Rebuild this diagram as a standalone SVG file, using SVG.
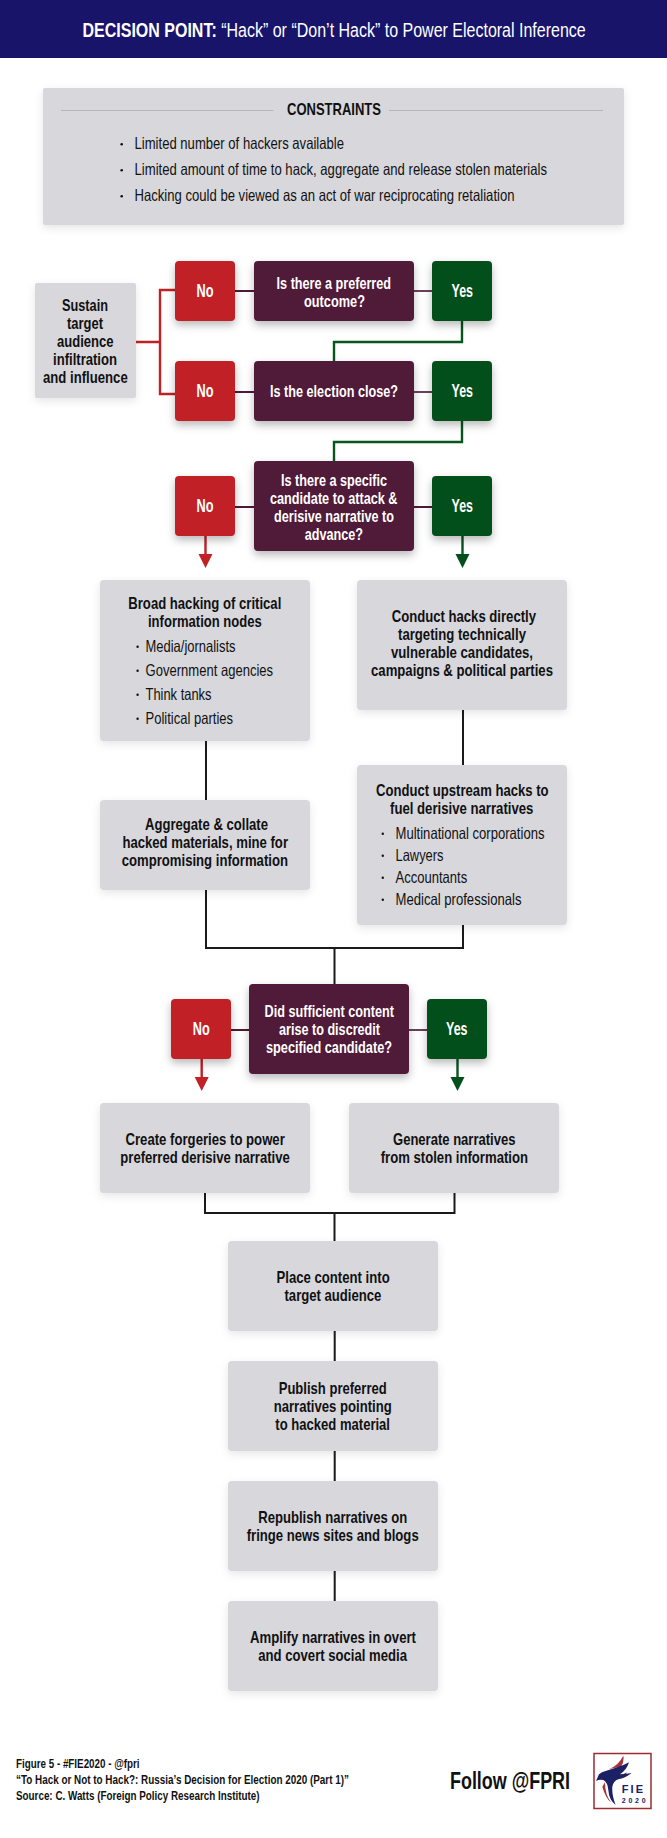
<svg xmlns="http://www.w3.org/2000/svg" width="667" height="1838" viewBox="0 0 667 1838">
<style>
text{font-family:"Liberation Sans",Arial,sans-serif;fill:#111}
.b{font-weight:700;font-size:16.5px}
.r{font-size:16.5px}
.w{font-weight:700;font-size:16.5px;fill:#fff}
.yn{font-weight:700;font-size:18px;fill:#fff}
.f{font-weight:700;font-size:13px}
.gray{fill:#d7d7dc;filter:url(#sg)}
.red{fill:#c02026;filter:url(#sd)}
.pur{fill:#501a39;filter:url(#sd)}
.grn{fill:#034f1b;filter:url(#sd)}
.dot{fill:#111}
#connectors path,#connectors line{fill:none;stroke-width:2}
#connectors path.cg,#connectors path.cr{stroke-width:2.4}
.k{stroke:#1a1a1a}.cr{stroke:#c02026}.cg{stroke:#07561f}.cp{stroke:#501a39}.cl{stroke:#6d3f5b}
</style>
<defs>
<filter id="sd" x="-30%" y="-30%" width="160%" height="170%" color-interpolation-filters="sRGB"><feDropShadow dx="0" dy="4" stdDeviation="4" flood-color="#000" flood-opacity=".28"/></filter>
<filter id="sg" x="-10%" y="-10%" width="120%" height="130%" color-interpolation-filters="sRGB"><feDropShadow dx="0" dy="3" stdDeviation="4" flood-color="#000" flood-opacity=".1"/></filter>
</defs>
<rect width="667" height="1838" fill="#fff"/>
<g id="header"><rect width="667" height="58" fill="#18146a"/>
<text transform="translate(82.5 37) scale(.8 1)" x="0" y="0" style="font-size:20px;fill:#fff"><tspan font-weight="700">DECISION POINT:</tspan> “Hack” or “Don’t Hack” to Power Electoral Inference</text></g>
<g id="constraints"><rect class="gray" x="43" y="88" width="581" height="137" rx="2"/>
<line x1="61" y1="110.5" x2="273.5" y2="110.5" stroke="#b5b5ba"/><line x1="389" y1="110.5" x2="603" y2="110.5" stroke="#b5b5ba"/>
<text class="b" x="287" y="115" textLength="94" lengthAdjust="spacingAndGlyphs" style="font-size:17px">CONSTRAINTS</text>
<circle class="dot" cx="121.7" cy="144.3" r="1.3"/><text class="r" x="134.5" y="149" textLength="209.5" lengthAdjust="spacingAndGlyphs">Limited number of hackers available</text>
<circle class="dot" cx="121.7" cy="170.3" r="1.3"/><text class="r" x="134.5" y="175" textLength="412.5" lengthAdjust="spacingAndGlyphs">Limited amount of time to hack, aggregate and release stolen materials</text>
<circle class="dot" cx="121.7" cy="196.3" r="1.3"/><text class="r" x="134.5" y="201" textLength="380" lengthAdjust="spacingAndGlyphs">Hacking could be viewed as an act of war reciprocating retaliation</text></g>
<g id="connectors">
<path class="cr" d="M136 342H160M175 290H160V394H175"/>
<path class="cp" d="M235 291H254M235 392H254M235 507H254M414 507H432M231 1030H249"/>
<path class="cl" d="M414 291H432M414 392H432M409 1030H428"/>
<path class="cg" d="M462 321V342H334V361M462 421V442H334V461"/>
<path class="cr" d="M205.5 536V556M201.7 1059V1079"/>
<path class="cg" d="M462.5 536V556M457.5 1059V1079"/>
<path class="k" d="M206 741V800M463 710V765M206 890V948H463V925M334.5 948V984M205 1193V1213H454.5V1193M334.5 1213V1241M334.7 1331V1361M334.7 1451V1481M334.7 1571V1601"/>
<polygon fill="#c02026" points="198.5,554 212.5,554 205.5,568"/>
<polygon fill="#034f1b" points="455.5,554 469.5,554 462.5,568"/>
<polygon fill="#c02026" points="194.7,1077 208.7,1077 201.7,1091"/>
<polygon fill="#034f1b" points="450.5,1077 464.5,1077 457.5,1091"/>
</g>
<g id="sustain"><rect class="gray" x="35" y="283" width="101" height="115" rx="2"/>
<text class="b" x="62" y="311" textLength="46" lengthAdjust="spacingAndGlyphs">Sustain</text>
<text class="b" x="67" y="329" textLength="36" lengthAdjust="spacingAndGlyphs">target</text>
<text class="b" x="57" y="347" textLength="56.6" lengthAdjust="spacingAndGlyphs">audience</text>
<text class="b" x="53" y="365" textLength="64" lengthAdjust="spacingAndGlyphs">infiltration</text>
<text class="b" x="43" y="383" textLength="84.7" lengthAdjust="spacingAndGlyphs">and influence</text></g>
<g id="no1"><rect class="red" x="175" y="261" width="60" height="60" rx="4"/><text class="yn" x="196.6" y="297" textLength="17" lengthAdjust="spacingAndGlyphs">No</text></g>
<g id="q1"><rect class="pur" x="254" y="261" width="160" height="60" rx="4"/>
<text class="w" x="276.6" y="288.5" textLength="114.4" lengthAdjust="spacingAndGlyphs">Is there a preferred</text>
<text class="w" x="304" y="306.5" textLength="61" lengthAdjust="spacingAndGlyphs">outcome?</text></g>
<g id="yes1"><rect class="grn" x="432" y="261" width="60" height="60" rx="4"/><text class="yn" x="451.5" y="297" textLength="21.5" lengthAdjust="spacingAndGlyphs">Yes</text></g>
<g id="no2"><rect class="red" x="175" y="361" width="60" height="60" rx="4"/><text class="yn" x="196.6" y="397" textLength="17" lengthAdjust="spacingAndGlyphs">No</text></g>
<g id="q2"><rect class="pur" x="254" y="361" width="160" height="60" rx="4"/>
<text class="w" x="270" y="397" textLength="128" lengthAdjust="spacingAndGlyphs">Is the election close?</text></g>
<g id="yes2"><rect class="grn" x="432" y="361" width="60" height="60" rx="4"/><text class="yn" x="451.5" y="397" textLength="21.5" lengthAdjust="spacingAndGlyphs">Yes</text></g>
<g id="no3"><rect class="red" x="175" y="476" width="60" height="60" rx="4"/><text class="yn" x="196.6" y="512" textLength="17" lengthAdjust="spacingAndGlyphs">No</text></g>
<g id="q3"><rect class="pur" x="254" y="461" width="160" height="90" rx="4"/>
<text class="w" x="281" y="486" textLength="106" lengthAdjust="spacingAndGlyphs">Is there a specific</text>
<text class="w" x="270" y="504" textLength="127.5" lengthAdjust="spacingAndGlyphs">candidate to attack &amp;</text>
<text class="w" x="274" y="522" textLength="120" lengthAdjust="spacingAndGlyphs">derisive narrative to</text>
<text class="w" x="304.7" y="540" textLength="58.3" lengthAdjust="spacingAndGlyphs">advance?</text></g>
<g id="yes3"><rect class="grn" x="432" y="476" width="60" height="60" rx="4"/><text class="yn" x="451.5" y="512" textLength="21.5" lengthAdjust="spacingAndGlyphs">Yes</text></g>
<g id="broad"><rect class="gray" x="100" y="580" width="210" height="161" rx="4"/>
<text class="b" x="128.3" y="609" textLength="153" lengthAdjust="spacingAndGlyphs">Broad hacking of critical</text>
<text class="b" x="148" y="627" textLength="113.7" lengthAdjust="spacingAndGlyphs">information nodes</text>
<circle class="dot" cx="137.6" cy="646.7" r="1.2"/><text class="r" x="145.5" y="652" textLength="90" lengthAdjust="spacingAndGlyphs">Media/jornalists</text>
<circle class="dot" cx="137.6" cy="670.7" r="1.2"/><text class="r" x="145.5" y="676" textLength="127.6" lengthAdjust="spacingAndGlyphs">Government agencies</text>
<circle class="dot" cx="137.6" cy="694.7" r="1.2"/><text class="r" x="145.5" y="700" textLength="66" lengthAdjust="spacingAndGlyphs">Think tanks</text>
<circle class="dot" cx="137.6" cy="718.7" r="1.2"/><text class="r" x="145.5" y="724" textLength="87.6" lengthAdjust="spacingAndGlyphs">Political parties</text></g>
<g id="direct"><rect class="gray" x="357" y="580" width="210" height="130" rx="4"/>
<text class="b" x="391.7" y="622" textLength="144.3" lengthAdjust="spacingAndGlyphs">Conduct hacks directly</text>
<text class="b" x="398" y="640" textLength="128" lengthAdjust="spacingAndGlyphs">targeting technically</text>
<text class="b" x="391" y="658" textLength="142" lengthAdjust="spacingAndGlyphs">vulnerable candidates,</text>
<text class="b" x="371" y="676" textLength="182" lengthAdjust="spacingAndGlyphs">campaigns &amp; political parties</text></g>
<g id="aggregate"><rect class="gray" x="100" y="800" width="210" height="90" rx="4"/>
<text class="b" x="145" y="830" textLength="123" lengthAdjust="spacingAndGlyphs">Aggregate &amp; collate</text>
<text class="b" x="122.4" y="848" textLength="165.6" lengthAdjust="spacingAndGlyphs">hacked materials, mine for</text>
<text class="b" x="121.7" y="866" textLength="166.3" lengthAdjust="spacingAndGlyphs">compromising information</text></g>
<g id="upstream"><rect class="gray" x="357" y="765" width="210" height="160" rx="4"/>
<text class="b" x="376" y="796" textLength="172.6" lengthAdjust="spacingAndGlyphs">Conduct upstream hacks to</text>
<text class="b" x="390" y="814" textLength="143.4" lengthAdjust="spacingAndGlyphs">fuel derisive narratives</text>
<circle class="dot" cx="382.8" cy="833.7" r="1.2"/><text class="r" x="395.5" y="839" textLength="149" lengthAdjust="spacingAndGlyphs">Multinational corporations</text>
<circle class="dot" cx="382.8" cy="855.7" r="1.2"/><text class="r" x="395.5" y="861" textLength="48" lengthAdjust="spacingAndGlyphs">Lawyers</text>
<circle class="dot" cx="382.8" cy="877.7" r="1.2"/><text class="r" x="395.5" y="883" textLength="71.7" lengthAdjust="spacingAndGlyphs">Accountants</text>
<circle class="dot" cx="382.8" cy="899.7" r="1.2"/><text class="r" x="395.5" y="905" textLength="126" lengthAdjust="spacingAndGlyphs">Medical professionals</text></g>
<g id="no4"><rect class="red" x="171" y="999" width="60" height="60" rx="4"/><text class="yn" x="192.8" y="1035" textLength="17" lengthAdjust="spacingAndGlyphs">No</text></g>
<g id="q4"><rect class="pur" x="249" y="984" width="160" height="90" rx="4"/>
<text class="w" x="264.5" y="1017" textLength="129.5" lengthAdjust="spacingAndGlyphs">Did sufficient content</text>
<text class="w" x="279" y="1035" textLength="101" lengthAdjust="spacingAndGlyphs">arise to discredit</text>
<text class="w" x="266" y="1053" textLength="126" lengthAdjust="spacingAndGlyphs">specified candidate?</text></g>
<g id="yes4"><rect class="grn" x="427" y="999" width="60" height="60" rx="4"/><text class="yn" x="446" y="1035" textLength="21.5" lengthAdjust="spacingAndGlyphs">Yes</text></g>
<g id="forgeries"><rect class="gray" x="100" y="1103" width="210" height="90" rx="4"/>
<text class="b" x="125.5" y="1145" textLength="159.3" lengthAdjust="spacingAndGlyphs">Create forgeries to power</text>
<text class="b" x="120.3" y="1163" textLength="169.4" lengthAdjust="spacingAndGlyphs">preferred derisive narrative</text></g>
<g id="generate"><rect class="gray" x="349" y="1103" width="210" height="90" rx="4"/>
<text class="b" x="393" y="1145" textLength="122.5" lengthAdjust="spacingAndGlyphs">Generate narratives</text>
<text class="b" x="380.7" y="1163" textLength="147.3" lengthAdjust="spacingAndGlyphs">from stolen information</text></g>
<g id="place"><rect class="gray" x="228" y="1241" width="210" height="90" rx="4"/>
<text class="b" x="276.5" y="1283" textLength="113.2" lengthAdjust="spacingAndGlyphs">Place content into</text>
<text class="b" x="284.5" y="1301" textLength="96.9" lengthAdjust="spacingAndGlyphs">target audience</text></g>
<g id="publish"><rect class="gray" x="228" y="1361" width="210" height="90" rx="4"/>
<text class="b" x="278.7" y="1394" textLength="108" lengthAdjust="spacingAndGlyphs">Publish preferred</text>
<text class="b" x="273.7" y="1412" textLength="118" lengthAdjust="spacingAndGlyphs">narratives pointing</text>
<text class="b" x="275.3" y="1430" textLength="114.7" lengthAdjust="spacingAndGlyphs">to hacked material</text></g>
<g id="republish"><rect class="gray" x="228" y="1481" width="210" height="90" rx="4"/>
<text class="b" x="258.3" y="1523" textLength="149" lengthAdjust="spacingAndGlyphs">Republish narratives on</text>
<text class="b" x="246.7" y="1541" textLength="172" lengthAdjust="spacingAndGlyphs">fringe news sites and blogs</text></g>
<g id="amplify"><rect class="gray" x="228" y="1601" width="210" height="90" rx="4"/>
<text class="b" x="250" y="1643" textLength="166" lengthAdjust="spacingAndGlyphs">Amplify narratives in overt</text>
<text class="b" x="258.3" y="1661" textLength="148.7" lengthAdjust="spacingAndGlyphs">and covert social media</text></g>
<g id="footer">
<text class="f" x="16" y="1768" textLength="123.6" lengthAdjust="spacingAndGlyphs">Figure 5 - #FIE2020 - @fpri</text>
<text class="f" x="16" y="1784" textLength="333" lengthAdjust="spacingAndGlyphs">“To Hack or Not to Hack?: Russia’s Decision for Election 2020 (Part 1)”</text>
<text class="f" x="16" y="1800" textLength="243.6" lengthAdjust="spacingAndGlyphs">Source: C. Watts (Foreign Policy Research Institute)</text>
<text x="450" y="1789" textLength="120" lengthAdjust="spacingAndGlyphs" style="font-size:23px;font-weight:700">Follow @FPRI</text></g>
<g id="logo">
<rect x="594" y="1753.5" width="57" height="55" fill="#fff" stroke="#9b2c32" stroke-width="1.5"/>
<g transform="translate(585 1745) scale(.3333)">
<path fill="#a8323a" d="M72 72Q100 62 115 32Q118 50 108 65ZM105 88Q115 90 125 82Q125 92 118 96ZM60 112Q60 150 78 172Q62 160 52 125Z"/>
<path fill="#1c2166" d="M33 108L42 88Q50 80 62 78L92 68Q115 62 132 52Q125 75 105 88Q118 88 140 84Q120 100 100 103Q85 108 82 125Q80 150 92 180Q72 165 70 135Q68 112 55 105Q42 103 33 108Z"/>
</g>
<text x="621.7" y="1793" textLength="21.5" lengthAdjust="spacing" style="font-size:11px;font-weight:700;fill:#1c2166">FIE</text>
<text x="621.7" y="1803" textLength="24" lengthAdjust="spacing" style="font-size:7px;font-weight:700;fill:#1c2166">2020</text>
</g>
</svg>
